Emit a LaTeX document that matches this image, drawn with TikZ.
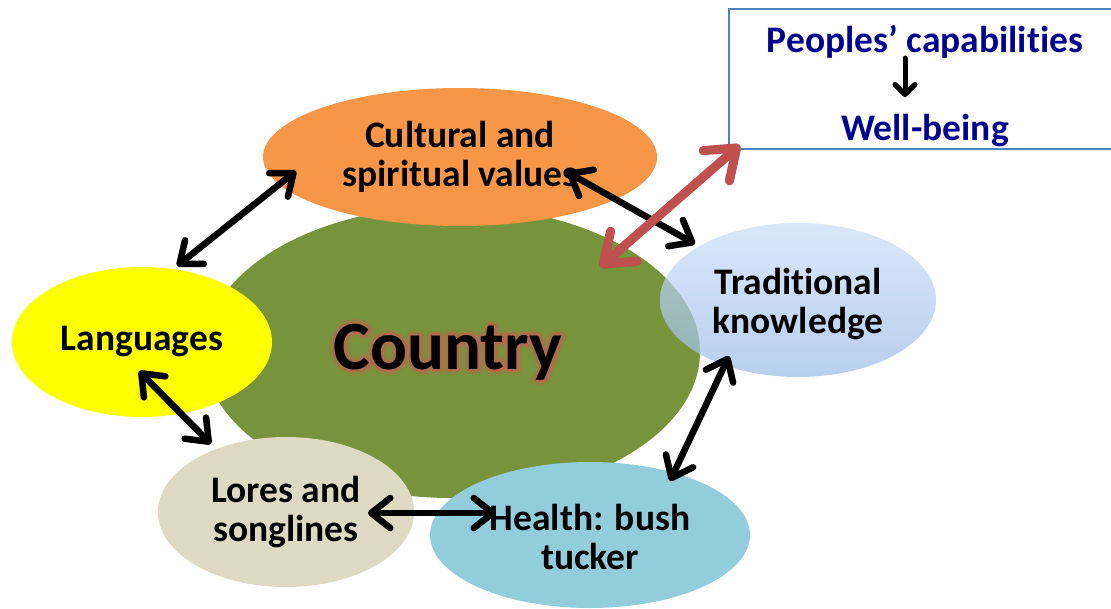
\documentclass[tikz,border=0pt]{standalone}
\usepackage{fontspec}
\setmainfont{Carlito}[RawFeature={-liga}]
\usetikzlibrary{shapes.geometric,arrows.meta}
\definecolor{cultorange}{HTML}{F79646}
\definecolor{countrygreen}{HTML}{77933C}
\definecolor{langyellow}{HTML}{FFFF00}
\definecolor{lorebeige}{HTML}{DDD9C3}
\definecolor{healthblue}{HTML}{92CDDC}
\definecolor{tradtop}{HTML}{CCDEF8}
\definecolor{tradbottom}{HTML}{9CBCE6}
\definecolor{linkred}{HTML}{C0504D}
\definecolor{glowred}{HTML}{C0634F}
\definecolor{boxblue}{HTML}{4F81BD}
\definecolor{navytext}{HTML}{000090}
% outlined text: stroke the glyphs with the given width
\newcommand{\outlinetext}[2]{\special{pdf:literal direct 1 Tr #1 w 1 j}#2\special{pdf:literal direct 0 Tr}}
\tikzset{
  linkbarb/.tip={Straight Barb[length=19pt,width=30pt,line cap=round,line join=round]},
  redbarb/.tip={Straight Barb[length=27pt,width=40pt,line cap=round,line join=round]},
  smallbarb/.tip={Straight Barb[length=10pt,width=20pt,line cap=round,line join=round]}
}
\begin{document}
\begin{tikzpicture}[x=1pt,y=-1pt,
  blob/.style={ellipse, inner sep=0pt, align=center,
    font=\bfseries\fontsize{37.5}{38.5}\selectfont},
  link/.style={line width=6.5pt, line cap=round, linkbarb-linkbarb},
  redlink/.style={line width=9pt, draw=linkred, line cap=round, redbarb-redbarb},
  shade/.style={draw=black, opacity=0.16, shift={(2.5,3)}},
  countryfont/.style={font=\bfseries\fontsize{69}{72}\selectfont},
  boxtext/.style={text=navytext, font=\bfseries\fontsize{37.5}{40}\selectfont, inner sep=0pt, anchor=base}
]
\useasboundingbox (0,0) rectangle (1111,608);

% the land at the centre
\node[ellipse, fill=countrygreen, minimum width=496pt, minimum height=292pt] (country) at (452,352) {};

% surrounding elements
\node[blob, fill=cultorange, minimum width=394pt, minimum height=138pt] (cult) at (460,157) {Cultural and\\spiritual values};
\node[blob, fill=langyellow, minimum width=260pt, minimum height=150pt] (lang) at (142,342) {Languages};
\node[blob, fill=lorebeige, minimum width=256pt, minimum height=150pt] (lore) at (286,512) {Lores and\\songlines};
\node[blob, fill=healthblue, minimum width=320pt, minimum height=146pt] (health) at (590,535) {};
\node[blob, top color=tradtop, bottom color=tradbottom, fill opacity=0.72, minimum width=276pt, minimum height=154pt] (trad) at (798,300) {};
\node[blob] (tradlabel) at (798,304) {Traditional\\knowledge};
\node[blob] (healthlabel) at (590,537) {Health: bush\\tucker};

% Country with a soft red halo
\node[countryfont, text=glowred, text opacity=0.3] (countryhalo) at (448,352) {\outlinetext{10}{Country}};
\node[countryfont, text=glowred, text opacity=0.65] (countryrim) at (448,352) {\outlinetext{5}{Country}};
\node[countryfont] (countrylabel) at (448,352) {Country};

% capability box
\node[draw=boxblue, line width=2pt, minimum width=390pt, minimum height=140pt, anchor=north west, inner sep=0pt] (capbox) at (728,8) {};
\node[boxtext] (caps) at (925,52) {Peoples’ capabilities};
\node[boxtext] (wellbeing) at (925,140) {Well-being};
\coordinate (capsfoot) at (905,58);
\coordinate (wellhead) at (905,97);
\draw[line width=5pt, line cap=round, -smallbarb] (capsfoot) -- (wellhead);

% tips of the links
\coordinate (langtop) at (177,266);
\coordinate (cultleft) at (296,171);
\coordinate (cultright) at (567,172);
\coordinate (tradleft) at (695,244);
\coordinate (tradfoot) at (729,356);
\coordinate (healthtop) at (670,481);
\coordinate (healthleft) at (496,513);
\coordinate (loreright) at (368,513);
\coordinate (langfoot) at (139,371);
\coordinate (loretop) at (211,444);
\coordinate (countrytip) at (600,267);
\coordinate (boxcorner) at (740,145);

\foreach \s/\e in {langtop/cultleft, cultright/tradleft, tradfoot/healthtop, healthleft/loreright, langfoot/loretop}{
  \draw[link, shade] (\s) -- (\e);
  \draw[link] (\s) -- (\e);
}
\draw[redlink, shade] (countrytip) -- (boxcorner);
\draw[redlink] (countrytip) -- (boxcorner);
\end{tikzpicture}
\end{document}
